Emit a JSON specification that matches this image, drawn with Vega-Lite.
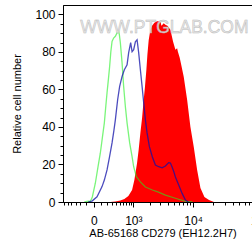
{
  "$schema": "https://vega.github.io/schema/vega-lite/v6.json",
  "width": 200,
  "height": 197,
  "autosize": {"type": "none"},
  "padding": {"left": 63, "top": 5, "right": 0, "bottom": 47},
  "background": "white",
  "config": {
    "view": {"stroke": "black", "strokeWidth": 1},
    "font": "Liberation Sans",
    "axis": {"grid": false, "domain": true, "ticks": true, "tickWidth": 1, "tickOpacity": 1, "domainColor": "black", "tickColor": "black", "labelColor": "black", "titleColor": "black", "labelFont": "Liberation Sans", "titleFont": "Liberation Sans"}
  },
  "datasets": {
    "red": [
      {"x": 266.8, "y": 0}, {"x": 381.6, "y": 0.3}, {"x": 517.6, "y": 0.8}, {"x": 644.6, "y": 1.6}, {"x": 790, "y": 3.2},
      {"x": 944, "y": 6.4}, {"x": 1049, "y": 11.7}, {"x": 1184, "y": 20.8}, {"x": 1270, "y": 27.8}, {"x": 1367, "y": 36.8},
      {"x": 1470, "y": 44.8}, {"x": 1572, "y": 54.5}, {"x": 1652, "y": 60.9}, {"x": 1757, "y": 70.5}, {"x": 1831, "y": 78.5},
      {"x": 1929, "y": 86.2}, {"x": 2065, "y": 91.8}, {"x": 2210, "y": 94.0}, {"x": 2419, "y": 95.6}, {"x": 2686, "y": 96.3},
      {"x": 3048, "y": 96.3}, {"x": 3166, "y": 94.0}, {"x": 3288, "y": 94.5}, {"x": 3454, "y": 95.3}, {"x": 3681, "y": 94.5},
      {"x": 3966, "y": 94.0}, {"x": 4430, "y": 91.8}, {"x": 4891, "y": 85.4}, {"x": 5319, "y": 81.2}, {"x": 5658, "y": 82.0},
      {"x": 5825, "y": 80.1}, {"x": 6216, "y": 76.9}, {"x": 6609, "y": 72.6}, {"x": 7178, "y": 66.7}, {"x": 8103, "y": 54.5},
      {"x": 9111, "y": 40.0}, {"x": 10239, "y": 29.4}, {"x": 11543, "y": 17.1}, {"x": 12958, "y": 7.5}, {"x": 14900, "y": 2.7},
      {"x": 17486, "y": 1.1}, {"x": 20741, "y": 0}
    ],
    "green": [
      {"x": -132, "y": 0}, {"x": -71, "y": 0.5}, {"x": -43, "y": 0.3}, {"x": -17, "y": 2.7}, {"x": 19.6, "y": 10.0},
      {"x": 52.6, "y": 18.2}, {"x": 88, "y": 26.0}, {"x": 119.4, "y": 34.2}, {"x": 152.6, "y": 42.2}, {"x": 179, "y": 51.3},
      {"x": 201, "y": 58.2}, {"x": 226, "y": 65.1}, {"x": 252, "y": 72.2}, {"x": 277, "y": 80.1}, {"x": 303.6, "y": 85.6},
      {"x": 340, "y": 87.4}, {"x": 381.6, "y": 88.3}, {"x": 425, "y": 90.1}, {"x": 468.7, "y": 90.9}, {"x": 488.5, "y": 89.2},
      {"x": 517.6, "y": 84.9}, {"x": 569.5, "y": 74.2}, {"x": 621, "y": 61.6}, {"x": 679, "y": 50.9}, {"x": 740.5, "y": 42.2},
      {"x": 842, "y": 31.5}, {"x": 944, "y": 24.2}, {"x": 1016, "y": 18.8}, {"x": 1148, "y": 13.5}, {"x": 1367, "y": 10.7},
      {"x": 1687, "y": 8.0}, {"x": 2236, "y": 6.4}, {"x": 2824, "y": 5.3}, {"x": 3681, "y": 3.7}, {"x": 5319, "y": 2.0},
      {"x": 7627, "y": 0.3}, {"x": 9779, "y": 0}
    ],
    "blue": [
      {"x": -71, "y": 0}, {"x": -20.9, "y": 0.5}, {"x": 41.7, "y": 2.8}, {"x": 114.6, "y": 8.2}, {"x": 152.6, "y": 11.7},
      {"x": 201, "y": 17.1}, {"x": 246, "y": 23.5}, {"x": 303.6, "y": 31.5}, {"x": 345, "y": 37.9}, {"x": 381.6, "y": 43.8},
      {"x": 441, "y": 54.5}, {"x": 497, "y": 61.6}, {"x": 569.5, "y": 66.9}, {"x": 644.6, "y": 70.5}, {"x": 740.5, "y": 73.1},
      {"x": 802, "y": 79.6}, {"x": 883, "y": 84.9}, {"x": 944, "y": 80.1}, {"x": 1016, "y": 81.2}, {"x": 1098, "y": 85.4},
      {"x": 1184, "y": 86.5}, {"x": 1270, "y": 79.6}, {"x": 1367, "y": 70.5}, {"x": 1470, "y": 61.6}, {"x": 1572, "y": 52.9},
      {"x": 1687, "y": 43.8}, {"x": 1808, "y": 36.8}, {"x": 1985, "y": 29.5}, {"x": 2236, "y": 24.0}, {"x": 2515, "y": 19.7},
      {"x": 2856, "y": 18.8}, {"x": 3251, "y": 18.2}, {"x": 3681, "y": 19.2}, {"x": 4161, "y": 21.0}, {"x": 4430, "y": 20.8},
      {"x": 4716, "y": 18.7}, {"x": 5038, "y": 16.0}, {"x": 5319, "y": 13.3}, {"x": 5996, "y": 9.1}, {"x": 6777, "y": 4.6},
      {"x": 7627, "y": 1.1}, {"x": 8487, "y": 0}
    ]
  },
  "layer": [
    {
      "data": {"name": "red"},
      "mark": {"type": "area", "color": "#ff0000", "clip": true},
      "encoding": {
        "x": {
          "field": "x", "type": "quantitative",
          "scale": {"type": "symlog", "constant": 350, "domain": [-648, 112000], "nice": false},
          "axis": {
            "title": "AB-65168 CD279 (EH12.2H7)",
            "titleFontSize": 11, "titleFontWeight": "normal",
            "titleX": 99.5, "titleY": 31.5, "titleBaseline": "middle", "titleAlign": "center",
            "values": [-600, -500, -400, -300, -200, -100, 0, 100, 200, 300, 400, 500, 600, 700, 800, 900, 1000, 2000, 3000, 4000, 5000, 6000, 7000, 8000, 9000, 10000, 20000, 30000, 40000, 50000, 60000, 70000, 80000, 90000, 100000],
            "tickCount": 200,
            "labelExpr": "datum.value == 0 ? '0' : datum.value == 1000 ? '10³' : datum.value == 10000 ? '10⁴' : datum.value == 100000 ? '10⁵' : ''",
            "labelFontSize": 12, "labelPadding": 8, "labelOverlap": false, "labelFlush": false, "labelBound": false,
            "ticks": true, "domain": true,
            "tickSize": {"condition": {"test": "datum.value == 0 || datum.value == 1000 || datum.value == 10000 || datum.value == 100000", "value": 5}, "value": 3}
          }
        },
        "y": {
          "field": "y", "type": "quantitative",
          "scale": {"domain": [0, 105], "nice": false},
          "axis": {
            "title": "Relative cell number",
            "titleFontSize": 11, "titleFontWeight": "normal",
            "titleX": -46, "titleY": 98.5, "titleAngle": -90, "titleBaseline": "middle", "titleAlign": "center",
            "values": [0, 5, 10, 15, 20, 25, 30, 35, 40, 45, 50, 55, 60, 65, 70, 75, 80, 85, 90, 95, 100],
            "tickCount": 200,
            "labelExpr": "datum.value % 20 == 0 ? '' + datum.value : ''",
            "labelFontSize": 12, "labelPadding": 3, "labelOverlap": false,
            "ticks": true, "domain": true,
            "tickSize": {"condition": {"test": "datum.value % 20 == 0", "value": 5}, "value": 3}
          }
        }
      }
    },
    {
      "data": {"name": "green"},
      "mark": {"type": "line", "color": "#22ee22", "opacity": 0.6, "strokeWidth": 1.3, "clip": true},
      "encoding": {
        "x": {"field": "x", "type": "quantitative"},
        "y": {"field": "y", "type": "quantitative"}
      }
    },
    {
      "data": {"name": "blue"},
      "mark": {"type": "line", "color": "#1010a8", "opacity": 0.75, "strokeWidth": 1.3, "clip": true},
      "encoding": {
        "x": {"field": "x", "type": "quantitative"},
        "y": {"field": "y", "type": "quantitative"}
      }
    },
    {
      "data": {"values": [{"label": "WWW.PTGLAB.COM"}]},
      "mark": {"type": "text", "align": "left", "baseline": "alphabetic", "font": "Liberation Sans", "fontSize": 17.5, "fill": "#e6e6e6", "stroke": "#b4b4b4", "strokeWidth": 0.5, "opacity": 0.9},
      "encoding": {
        "x": {"datum": -203, "type": "quantitative"},
        "y": {"datum": 90, "type": "quantitative"},
        "text": {"field": "label"}
      }
    }
  ]
}
